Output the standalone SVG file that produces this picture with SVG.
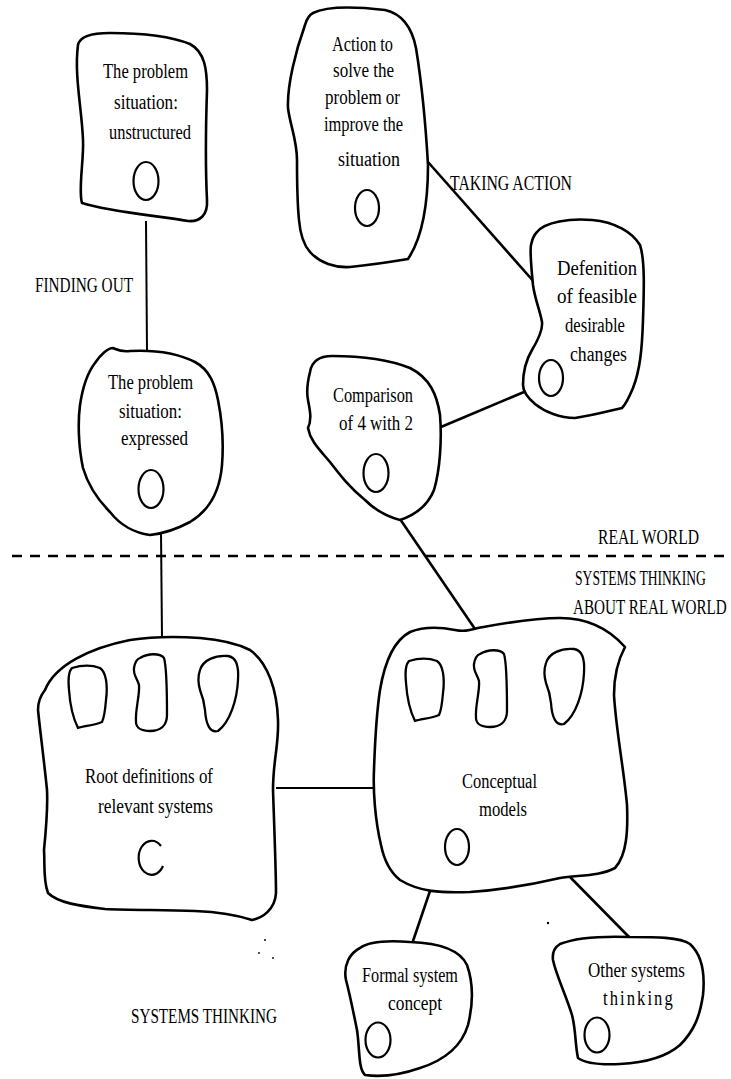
<svg xmlns="http://www.w3.org/2000/svg" xmlns:xlink="http://www.w3.org/1999/xlink" width="731" height="1079" viewBox="0 0 731 1079">
  <style>
    .outline { fill: #fff; stroke: #000; stroke-width: 2.6; stroke-linejoin: round; }
    .blob { fill: none; stroke: #000; stroke-width: 2.3; stroke-linejoin: round; }
    .eye { fill: none; stroke: #000; stroke-width: 2.2; }
    .link { stroke: #000; stroke-width: 2.6; fill: none; }
    .link.thin { stroke-width: 2; }
    .divider { stroke: #000; stroke-width: 2.6; stroke-dasharray: 10 8; }
    text { font-family: "Liberation Serif", "Times New Roman", serif; fill: #000; }
    .t { font-size: 20px; }
    .lbl { font-size: 21px; }
    .speck { fill: #000; }
  </style>
  <defs>
    <!-- the three small "model" blobs inside the two large nodes -->
    <path id="blobA" d="M72,668 C82,665 92,665 100,668 C106,672 108,685 106,700 C105,712 103,720 102,722 C95,725 85,726 78,728 C74,720 70,705 69,690 C68,680 68,672 72,668 Z"/>
    <path id="blobB" d="M140,658 C148,653 160,653 164,658 C167,668 167,695 167,715 C167,726 160,731 150,731 C142,731 136,728 136,722 C135,710 140,695 139,685 C137,678 133,675 134,668 C135,662 137,659 140,658 Z"/>
    <path id="blobC" d="M200,670 C203,660 215,655 228,656 C236,657 239,665 238,680 C237,700 230,722 218,731 C210,733 206,725 205,710 C204,700 202,695 200,690 C198,683 198,676 200,670 Z"/>
  </defs>

  <!-- boundary between the real world and systems thinking -->
  <line class="divider" x1="12" y1="556" x2="731" y2="556"/>

  <g id="connectors">
    <line class="link thin" x1="146" y1="221" x2="147" y2="350"/>
    <line class="link" x1="428" y1="162" x2="535" y2="283"/>
    <line class="link" x1="441" y1="427" x2="524" y2="392"/>
    <line class="link thin" x1="161" y1="533" x2="162" y2="638"/>
    <line class="link" x1="400" y1="519" x2="475" y2="629"/>
    <line class="link thin" x1="276" y1="788" x2="374" y2="788"/>
    <line class="link" x1="430" y1="891" x2="412" y2="944"/>
    <line class="link" x1="570" y1="877" x2="630" y2="938"/>
  </g>

  <g id="node-unstructured">
    <path class="outline" d="M78,45 C80,35 95,33 110,33 C140,33 170,36 190,44 C205,52 207,70 207,90 C206,120 205,160 207,200 C208,215 200,222 188,221 C160,216 110,212 82,203 C78,190 84,160 83,140 C82,110 74,75 78,45 Z"/>
    <text class="t" x="103" y="78" textLength="85" lengthAdjust="spacingAndGlyphs">The problem</text>
    <text class="t" x="114" y="109" textLength="64" lengthAdjust="spacingAndGlyphs">situation:</text>
    <text class="t" x="109" y="139" textLength="82" lengthAdjust="spacingAndGlyphs">unstructured</text>
    <ellipse class="eye" cx="146" cy="181" rx="12.5" ry="19"/>
  </g>

  <g id="node-action">
    <path class="outline" d="M313,13 C325,7 350,6 385,10 C403,14 412,28 416,48 C422,85 426,130 428,165 C428,200 424,235 408,259 C390,262 370,265 350,267 C335,268 320,263 310,252 C302,243 300,232 299,220 C297,200 297,175 297,160 C297,140 290,125 288,108 C287,85 296,50 305,25 C307,18 309,15 313,13 Z"/>
    <text class="t" x="332" y="51" textLength="61" lengthAdjust="spacingAndGlyphs">Action to</text>
    <text class="t" x="333" y="77" textLength="61" lengthAdjust="spacingAndGlyphs">solve the</text>
    <text class="t" x="325" y="104" textLength="75" lengthAdjust="spacingAndGlyphs">problem or</text>
    <text class="t" x="324" y="131" textLength="79" lengthAdjust="spacingAndGlyphs">improve the</text>
    <text class="t" x="338" y="166" textLength="62" lengthAdjust="spacingAndGlyphs">situation</text>
    <ellipse class="eye" cx="367" cy="208" rx="12" ry="18"/>
  </g>

  <g id="node-changes">
    <path class="outline" d="M537,232 C545,222 570,218 592,220 C615,222 632,232 640,245 C645,260 644,290 643,320 C642,350 640,370 633,388 C628,400 625,405 622,408 C605,412 590,416 575,418 C560,418 545,412 535,404 C528,398 523,392 523,385 C523,370 526,360 532,350 C538,340 543,330 542,322 C540,310 535,300 533,285 C531,265 530,250 531,245 C532,240 534,235 537,232 Z"/>
    <text class="t" x="557" y="275" textLength="80" lengthAdjust="spacingAndGlyphs">Defenition</text>
    <text class="t" x="557" y="303" textLength="80" lengthAdjust="spacingAndGlyphs">of feasible</text>
    <text class="t" x="565" y="332" textLength="60" lengthAdjust="spacingAndGlyphs">desirable</text>
    <text class="t" x="570" y="361" textLength="57" lengthAdjust="spacingAndGlyphs">changes</text>
    <ellipse class="eye" cx="551" cy="378" rx="12" ry="18"/>
  </g>

  <g id="node-comparison">
    <path class="outline" d="M310,372 C312,360 320,356 332,356 C360,356 390,360 410,368 C430,378 437,395 440,415 C442,440 440,470 434,490 C428,505 415,515 400,520 C385,516 375,510 365,500 C350,488 340,475 330,462 C318,448 310,440 308,428 C312,420 310,410 308,400 C306,390 308,380 310,372 Z"/>
    <text class="t" x="333" y="402" textLength="80" lengthAdjust="spacingAndGlyphs">Comparison</text>
    <text class="t" x="339" y="430" textLength="74" lengthAdjust="spacingAndGlyphs">of 4 with 2</text>
    <ellipse class="eye" cx="376" cy="473" rx="12.5" ry="19"/>
  </g>

  <g id="node-expressed">
    <path class="outline" d="M95,363 C100,355 108,348 113,348 C118,350 120,352 130,351 C150,350 175,352 195,362 C210,370 215,385 218,400 C222,420 224,440 222,465 C220,490 210,510 190,522 C175,530 160,534 150,535 C135,533 120,525 110,512 C98,500 88,485 83,468 C78,445 78,420 80,405 C83,385 88,372 95,363 Z"/>
    <text class="t" x="108" y="389" textLength="85" lengthAdjust="spacingAndGlyphs">The problem</text>
    <text class="t" x="119" y="418" textLength="63" lengthAdjust="spacingAndGlyphs">situation:</text>
    <text class="t" x="121" y="445" textLength="67" lengthAdjust="spacingAndGlyphs">expressed</text>
    <ellipse class="eye" cx="151" cy="489" rx="12.5" ry="19"/>
  </g>

  <g id="node-root-definitions">
    <path class="outline" d="M45,690 C55,665 90,648 130,640 C150,637 170,636 200,638 C225,640 240,645 250,650 C268,663 277,690 278,720 C279,745 273,760 273,790 C274,820 276,870 276,893 C275,910 262,918 252,920 C240,916 220,912 195,911 C160,910 130,910 105,909 C80,906 58,903 48,893 C43,880 45,865 44,850 C46,830 48,810 47,790 C44,760 40,730 38,710 C38,700 41,695 45,690 Z"/>
    <use class="blob" href="#blobA" xlink:href="#blobA"/>
    <use class="blob" href="#blobB" xlink:href="#blobB"/>
    <use class="blob" href="#blobC" xlink:href="#blobC"/>
    <text class="t" x="85" y="783" textLength="128" lengthAdjust="spacingAndGlyphs">Root definitions of</text>
    <text class="t" x="98" y="813" textLength="115" lengthAdjust="spacingAndGlyphs">relevant systems</text>
    <path class="eye" d="M161,846 A13,17 0 1 0 163,866"/>
  </g>

  <g id="node-conceptual-models">
    <path class="outline" d="M380,690 C385,660 395,640 410,632 C425,626 440,627 455,630 C465,632 470,630 478,628 C500,624 530,618 560,618 C590,618 610,630 625,647 C618,660 614,675 614,695 C616,730 624,770 627,805 C628,830 627,855 615,868 C600,876 580,875 560,878 C530,885 500,890 470,892 C440,893 420,892 400,880 C390,872 384,860 381,845 C375,820 373,790 374,770 C375,740 377,710 380,690 Z"/>
    <use class="blob" href="#blobA" xlink:href="#blobA" transform="translate(337,-7)"/>
    <use class="blob" href="#blobB" xlink:href="#blobB" transform="translate(340,-4)"/>
    <use class="blob" href="#blobC" xlink:href="#blobC" transform="translate(346,-7)"/>
    <text class="t" x="462" y="788" textLength="75" lengthAdjust="spacingAndGlyphs">Conceptual</text>
    <text class="t" x="479" y="816" textLength="48" lengthAdjust="spacingAndGlyphs">models</text>
    <ellipse class="eye" cx="457" cy="847" rx="12" ry="18"/>
  </g>

  <g id="node-formal-system">
    <path class="outline" d="M360,948 C368,942 385,940 410,942 C440,943 460,950 467,965 C474,985 473,1005 468,1025 C462,1045 445,1060 420,1068 C400,1075 380,1077 365,1075 C358,1068 360,1050 357,1030 C353,1010 350,995 346,980 C343,965 350,953 360,948 Z"/>
    <text class="t" x="362" y="982" textLength="96" lengthAdjust="spacingAndGlyphs">Formal system</text>
    <text class="t" x="388" y="1010" textLength="54" lengthAdjust="spacingAndGlyphs">concept</text>
    <ellipse class="eye" cx="378" cy="1040" rx="12.5" ry="17.5"/>
  </g>

  <g id="node-other-systems">
    <path class="outline" d="M560,944 C575,938 600,936 630,937 C655,937 680,937 690,944 C702,955 705,975 703,995 C700,1015 695,1030 680,1045 C665,1058 640,1063 620,1064 C600,1065 585,1063 578,1058 C575,1045 576,1030 572,1015 C566,995 556,975 553,960 C552,952 555,947 560,944 Z"/>
    <text class="t" x="588" y="977" textLength="97" lengthAdjust="spacingAndGlyphs">Other systems</text>
    <!-- narrow glyphs, loosely spaced -->
    <text class="t" transform="translate(603,1005) scale(0.83,1)" textLength="84" lengthAdjust="spacing">thinking</text>
    <ellipse class="eye" cx="597" cy="1035" rx="12.5" ry="17.5"/>
  </g>

  <g id="labels">
    <text class="lbl" x="35" y="292" textLength="98" lengthAdjust="spacingAndGlyphs">FINDING OUT</text>
    <text class="lbl" x="450" y="190" textLength="122" lengthAdjust="spacingAndGlyphs">TAKING ACTION</text>
    <!-- narrow capitals: squeezed horizontally with a scale -->
    <text class="lbl" transform="translate(598,544) scale(0.744,1)">REAL WORLD</text>
    <text class="lbl" transform="translate(575,585) scale(0.648,1)">SYSTEMS THINKING</text>
    <text class="lbl" transform="translate(573,614) scale(0.722,1)">ABOUT REAL WORLD</text>
    <text class="lbl" x="131" y="1023" textLength="146" lengthAdjust="spacingAndGlyphs">SYSTEMS THINKING</text>
  </g>

  <!-- stray print marks -->
  <circle class="speck" cx="548" cy="923" r="1.2"/>
  <circle class="speck" cx="265" cy="940" r="1"/>
  <circle class="speck" cx="259" cy="953" r="0.9"/>
  <circle class="speck" cx="273" cy="958" r="0.9"/>
</svg>
